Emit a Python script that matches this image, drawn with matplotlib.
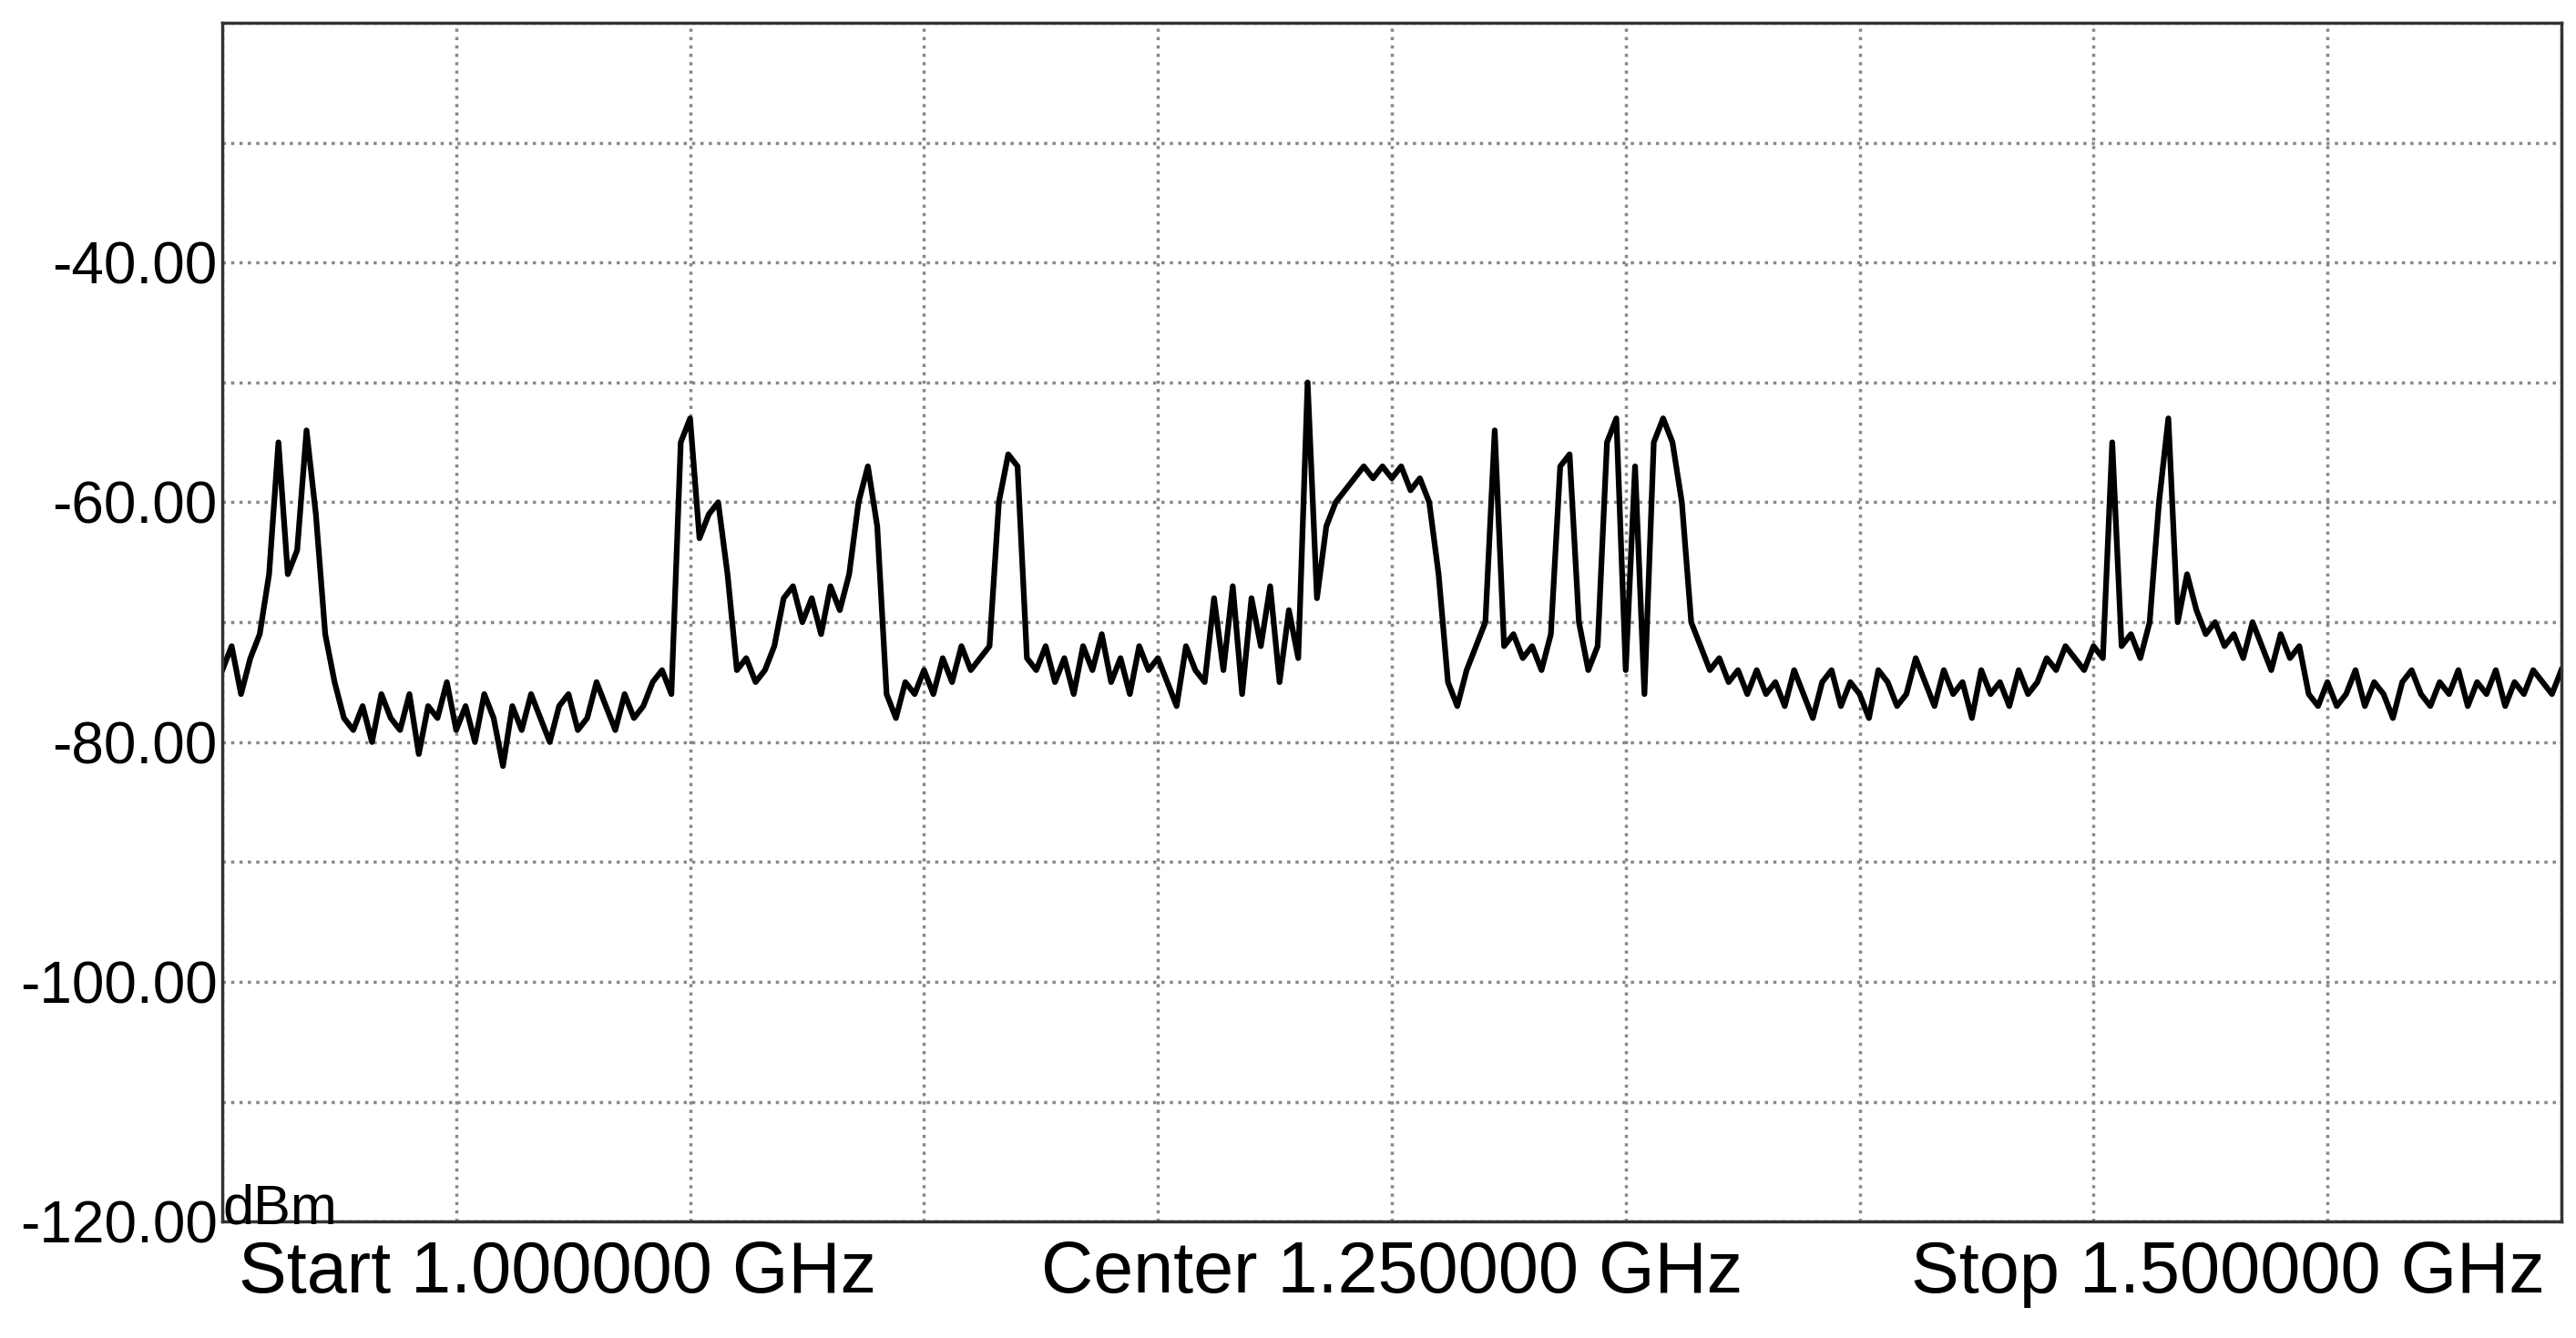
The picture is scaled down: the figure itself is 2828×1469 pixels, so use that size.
import matplotlib.pyplot as plt
import numpy as np

# spectrum trace, dBm, sampled every ~2 MHz from 1.0 to 1.5 GHz
LEVEL = [
    -74, -72, -76, -73, -71,
    -66, -55, -66, -64, -54, -61, -71, -75, -78, -79,
    -77, -80, -76, -78, -79, -76, -81, -77, -78, -75, -79, -77, -80, -76, -78, -82, -77,
    -79, -76, -78, -80, -77, -76, -79, -78, -75, -77, -79, -76, -78, -77, -75, -74, -76,
    -55, -53, -63, -61, -60, -66, -74, -73, -75, -74, -72, -68, -67, -70, -68, -71, -67,
    -69, -66, -60, -57, -62, -76, -78, -75, -76, -74, -76, -73, -75, -72, -74, -73, -72,
    -60, -56, -57, -73, -74, -72, -75, -73, -76, -72, -74, -71, -75, -73, -76, -72, -74,
    -73, -75, -77, -72, -74, -75, -68, -74, -67, -76, -68, -72, -67, -75, -69, -73, -50,
    -68, -62, -60, -59, -58, -57, -58, -57, -58, -57, -59, -58, -60, -66, -75, -77, -74,
    -72, -70, -54, -72, -71, -73, -72, -74, -71, -57, -56, -70, -74, -72, -55, -53, -74,
    -57, -76, -55, -53, -55, -60, -70, -72, -74, -73, -75, -74, -76, -74,
    -76, -75, -77, -74, -76, -78, -75, -74, -77, -75, -76, -78, -74, -75, -77, -76, -73,
    -75, -77, -74, -76, -75, -78, -74, -76, -75, -77, -74, -76, -75, -73, -74, -72, -73, -74,
    -72, -73, -55, -72, -71, -73, -70, -60, -53, -70, -66, -69, -71, -70, -72, -71, -73,
    -70, -72, -74, -71, -73, -72, -76, -77,
    -75, -77, -76, -74, -77, -75, -76, -78, -75, -74, -76, -77, -75, -76, -74, -77, -75,
    -76, -74, -77, -75, -76, -74, -75, -76, -74,
]
FREQ = np.linspace(1000, 1500, len(LEVEL))  # MHz
Y_TICKS = [-40, -60, -80, -100, -120]

fig = plt.figure(figsize=(28.28, 14.69), dpi=100)
ax = fig.add_axes([0.0863, 0.087, 0.908, 0.896])
ax.plot(FREQ, LEVEL, color='black', lw=4.5)

ax.set_xlim(1000, 1500)
ax.set_ylim(-120, -20)
ax.set_xticks(np.arange(1000, 1501, 50))
ax.set_yticks(np.arange(-120, -19, 10))
ax.set_yticklabels([f"{v:.2f}" if v in Y_TICKS else "" for v in np.arange(-120, -19, 10)],
                   fontsize=46, family='Liberation Sans')
ax.set_xticklabels([])
ax.tick_params(length=0, pad=4)
ax.grid(True, color='#888888', linestyle=':', lw=2.5)
for s in ax.spines.values():
    s.set_color('#333333')
    s.set_linewidth(2.5)

ax.text(0.0, -0.012, "dBm", transform=ax.transAxes, ha='left', va='bottom',
        fontsize=44, family='Liberation Sans')
fs = dict(fontsize=57, family='Liberation Sans', va='top', transform=ax.transAxes)
ax.text(0.007, -0.015, "Start 1.000000 GHz", ha='left', **fs)
ax.text(0.5, -0.015, "Center 1.250000 GHz", ha='center', **fs)
ax.text(0.993, -0.015, "Stop 1.500000 GHz", ha='right', **fs)

fig.savefig('out.png', dpi=100)
